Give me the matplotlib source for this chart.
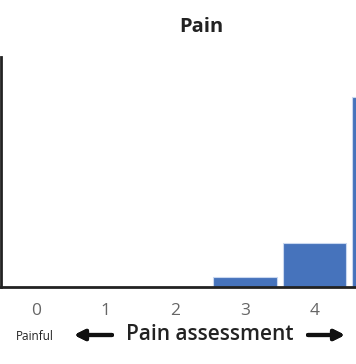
import numpy as np
import matplotlib.pyplot as plt

plt.rcParams['font.family'] = ['Open Sans', 'DejaVu Sans']

# pain score categories and share of answers (%)
categories = [0, 1, 2, 3, 4, 5]
tick_labels = ["0", "1", "2", "3", "4"]  # label for 5 falls outside the crop
shares = [0.0, 0.0, 0.0, 4.2, 18.0, 77.8]

W, H = 356, 364
fig = plt.figure(figsize=(W/100, H/100), dpi=100)

# axes runs past the right edge, like the cropped original
left = 1/W
bottom = (H-287.3)/H
ax = fig.add_axes([left, bottom, 418/W, 230.3/H])
ax.bar(categories, shares, width=0.91, color="#4673BC", edgecolor="#C9D8F0", linewidth=0.8)
ax.set_xlim(-0.5, 5.5)
ax.set_ylim(0, 94.4)

for s in ["top", "right"]:
    ax.spines[s].set_visible(False)
ax.spines["left"].set_linewidth(2)
ax.spines["bottom"].set_linewidth(2)
ax.spines["left"].set_color("#222222")
ax.spines["bottom"].set_color("#222222")
ax.set_yticks([])
ax.set_xticks(categories[:len(tick_labels)])
ax.set_xticklabels(tick_labels, fontsize=12.5, color="#666666")
ax.tick_params(axis="x", length=0, pad=11)

fig.text(201/W, 1-27/H, "Pain", ha="center", va="center", fontsize=14.5, fontweight="bold", color="#222222")
fig.text(35/W, 1-336/H, "Painful", ha="center", va="center", fontsize=8.5, color="#222222")
fig.text(210/W, 1-335/H, "Pain assessment", ha="center", va="center", fontsize=15, fontweight="semibold", color="#222222")

for x0, x1 in [(112, 74), (308, 345)]:
    fig.add_artist(plt.annotate("", xy=(x1/W, 1-335/H), xytext=(x0/W, 1-335/H),
                                xycoords="figure fraction", textcoords="figure fraction",
                                arrowprops=dict(arrowstyle="-|>,head_length=0.6,head_width=0.3",
                                                lw=3, color="#111111", shrinkA=0, shrinkB=0)))

fig.savefig("out.png", dpi=100)
